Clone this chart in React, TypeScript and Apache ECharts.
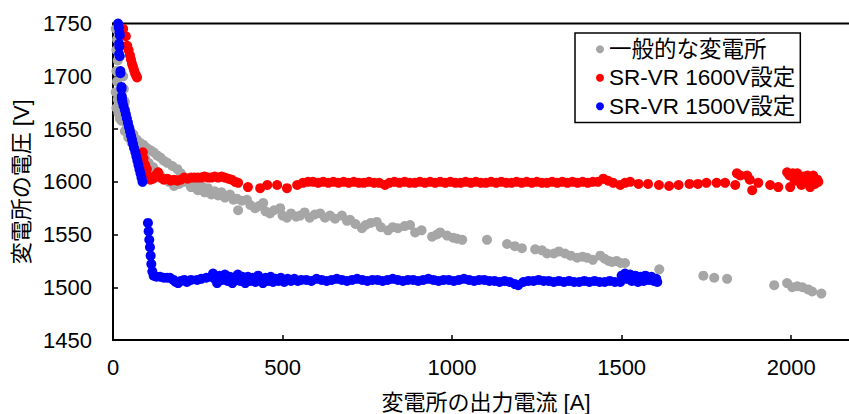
import React, { useEffect, useRef } from "react";
import * as echarts from "echarts";

const seriesNames = ["一般的な変電所", "SR-VR 1600V設定", "SR-VR 1500V設定"];
const seriesColors = ["#A6A6A6", "#FF0000", "#0000FF"];
const xTitle = "変電所の出力電流 [A]";
const yTitle = "変電所の電圧 [V]";

// [current A, voltage V]
const grayPoints: number[][] = [
  [8, 1745], [12, 1735], [10, 1725], [14, 1715], [10, 1705], [12, 1695], [8, 1685], [14, 1678],
  [10, 1670], [16, 1665], [20, 1660], [25, 1658], [30, 1700], [32, 1688], [35, 1676],
  [30, 1660], [40, 1655], [35, 1648], [50, 1650], [45, 1642], [60, 1645], [55, 1637], [70, 1640],
  [65, 1632], [80, 1637], [75, 1628], [90, 1635], [85, 1625], [100, 1632], [95, 1622], [110, 1630],
  [105, 1618], [120, 1628], [118, 1614], [130, 1625], [128, 1610], [140, 1623], [140, 1606],
  [150, 1620], [152, 1603], [160, 1618], [165, 1600], [175, 1615], [180, 1596], [190, 1612],
  [195, 1598], [200, 1608], [210, 1600], [220, 1603], [230, 1595], [240, 1598], [250, 1592],
  [260, 1597], [270, 1590], [280, 1594], [290, 1588], [300, 1591], [310, 1587], [320, 1590],
  [330, 1585], [345, 1588], [355, 1583], [365, 1584], [369, 1573], [380, 1582], [395, 1583],
  [405, 1578], [419, 1575], [430, 1577], [443, 1580], [450, 1572], [463, 1570], [475, 1573],
  [493, 1575], [500, 1568], [513, 1566], [525, 1570], [540, 1567], [552, 1568], [565, 1571],
  [580, 1566], [595, 1569], [611, 1570], [625, 1566], [640, 1568], [655, 1565], [675, 1568],
  [690, 1563], [699, 1564], [715, 1560], [734, 1556], [745, 1559], [760, 1561], [778, 1562],
  [790, 1557], [811, 1554], [825, 1557], [840, 1556], [860, 1558], [876, 1559], [891, 1552],
  [910, 1554], [941, 1548], [955, 1550], [965, 1552], [985, 1549], [1003, 1547], [1015, 1546],
  [1030, 1545], [1103, 1545], [1162, 1541], [1185, 1539], [1206, 1537], [1245, 1536], [1265, 1535],
  [1280, 1532], [1300, 1532], [1315, 1534], [1333, 1532], [1350, 1530], [1369, 1528], [1385, 1529],
  [1398, 1528], [1415, 1526], [1437, 1530], [1450, 1527], [1462, 1525], [1472, 1524], [1485, 1525],
  [1497, 1523], [1510, 1523], [1611, 1517], [1741, 1511], [1773, 1509], [1811, 1508], [1950, 1502],
  [1988, 1504], [2003, 1500], [2018, 1501], [2033, 1500], [2050, 1498], [2062, 1496], [2089, 1494],
];

const redPoints: number[][] = [
  [30, 1745], [38, 1738], [42, 1729], [46, 1725], [50, 1720], [53, 1716], [56, 1712], [59, 1709],
  [62, 1706], [65, 1703], [68, 1701], [71, 1699],
  [88, 1628], [90, 1622], [95, 1616], [100, 1612], [100, 1607], [105, 1604], [110, 1602], [118, 1603],
  [125, 1606], [133, 1609], [140, 1604], [150, 1602], [160, 1603], [170, 1601], [180, 1602],
  [190, 1601], [200, 1602], [210, 1604], [220, 1603], [230, 1604], [240, 1604], [250, 1604],
  [260, 1604], [270, 1605], [280, 1604], [290, 1604], [300, 1605], [310, 1604], [320, 1605],
  [330, 1604], [340, 1603], [350, 1602], [360, 1600], [369, 1599], [398, 1595], [434, 1594],
  [455, 1597], [484, 1597], [513, 1594], [543, 1597],
  [560, 1599], [575, 1600], [590, 1600], [605, 1599], [620, 1600], [635, 1599], [650, 1600],
  [665, 1599], [680, 1600], [695, 1599], [710, 1600], [725, 1599], [740, 1599], [755, 1600],
  [770, 1599], [785, 1599], [802, 1597], [815, 1599], [830, 1600], [845, 1599], [860, 1600],
  [875, 1599], [890, 1599], [905, 1600], [920, 1599], [935, 1600], [950, 1599], [965, 1600],
  [980, 1599], [995, 1600], [1010, 1599], [1025, 1599], [1040, 1600], [1055, 1599], [1070, 1600],
  [1085, 1599], [1100, 1599], [1115, 1600], [1130, 1599], [1145, 1600], [1160, 1599], [1175, 1599],
  [1190, 1600], [1205, 1599], [1220, 1600], [1235, 1599], [1250, 1600], [1265, 1599], [1280, 1599],
  [1295, 1600], [1310, 1599], [1325, 1600], [1340, 1599], [1355, 1600], [1370, 1599], [1385, 1600],
  [1400, 1599], [1415, 1600], [1430, 1600],
  [1446, 1603], [1460, 1601], [1475, 1599], [1496, 1597], [1510, 1599], [1525, 1600], [1550, 1598],
  [1578, 1598], [1610, 1597], [1640, 1596], [1668, 1597], [1700, 1598], [1725, 1598], [1750, 1599],
  [1780, 1599], [1805, 1599], [1835, 1597], [1840, 1608], [1850, 1606], [1870, 1606], [1878, 1602],
  [1885, 1592], [1903, 1599], [1938, 1597], [1962, 1595], [1988, 1609], [1995, 1606], [1997, 1595],
  [2005, 1608], [2010, 1601], [2018, 1608], [2025, 1604], [2030, 1597], [2036, 1605], [2045, 1600],
  [2048, 1606], [2056, 1595], [2060, 1603], [2065, 1606], [2070, 1598], [2077, 1602], [2080, 1600],
];

const bluePoints: number[][] = [
  [15, 1750], [17, 1746], [19, 1741], [20, 1739], [18, 1731], [19, 1728], [18, 1721], [20, 1719],
  [22, 1705], [22, 1703], [25, 1690], [25, 1688], [26, 1681], [26, 1679], [28, 1676], [31, 1672],
  [35, 1668], [38, 1664], [41, 1660], [44, 1656], [47, 1652], [50, 1648], [53, 1644], [56, 1640],
  [59, 1636], [62, 1632], [66, 1628], [69, 1624], [72, 1620], [75, 1616], [78, 1612], [81, 1608],
  [84, 1604], [87, 1600],
  [103, 1561], [105, 1553], [107, 1545], [109, 1538], [111, 1530], [113, 1522], [116, 1515],
  [120, 1511], [128, 1510], [139, 1510], [150, 1509], [160, 1509], [168, 1509], [178, 1507],
  [185, 1505], [192, 1504], [200, 1506], [210, 1507], [218, 1505], [230, 1507], [248, 1507],
  [260, 1508], [275, 1509], [290, 1510], [295, 1513], [300, 1508], [307, 1504], [315, 1511],
  [322, 1507], [330, 1512], [338, 1506], [345, 1510], [352, 1504], [360, 1509], [368, 1512],
  [375, 1506], [382, 1510], [390, 1504],
  [398, 1510], [405, 1506], [412, 1509], [420, 1505], [428, 1511], [435, 1507], [442, 1504],
  [450, 1509], [458, 1506], [465, 1510], [472, 1505], [480, 1508], [488, 1506], [495, 1509],
  [505, 1505], [515, 1508], [525, 1506], [535, 1508], [545, 1506], [555, 1507], [570, 1507],
  [585, 1506], [600, 1508], [615, 1507], [630, 1506], [645, 1507], [660, 1508], [675, 1507],
  [690, 1506], [705, 1507], [720, 1508], [735, 1507], [750, 1506], [765, 1507], [780, 1507],
  [795, 1506], [810, 1507], [825, 1508], [840, 1507], [855, 1506], [870, 1507], [885, 1507],
  [900, 1506], [915, 1507], [930, 1508], [945, 1507], [960, 1506], [975, 1507], [990, 1507],
  [1005, 1506], [1020, 1507], [1035, 1508], [1050, 1507], [1065, 1506], [1080, 1507], [1095, 1507],
  [1110, 1506], [1125, 1506], [1140, 1505], [1155, 1506], [1170, 1505], [1185, 1503], [1195, 1502],
  [1210, 1505], [1225, 1506], [1240, 1506], [1255, 1507], [1270, 1506], [1285, 1506], [1300, 1505],
  [1315, 1506], [1330, 1505], [1345, 1506], [1360, 1505], [1375, 1505], [1390, 1506], [1405, 1505],
  [1420, 1506], [1435, 1505], [1450, 1505], [1465, 1506], [1480, 1505], [1496, 1505], [1500, 1511],
  [1510, 1513], [1515, 1508], [1525, 1512], [1530, 1506], [1540, 1511], [1548, 1505], [1555, 1510],
  [1565, 1506], [1570, 1511], [1580, 1507], [1588, 1510], [1595, 1506], [1602, 1508], [1605, 1505],
];

const FONT = "'Liberation Sans', Arial, 'Noto Sans CJK JP', sans-serif";

export default function App() {
  const ref = useRef<HTMLDivElement>(null);
  useEffect(() => {
    if (!ref.current) return;
    const chart = echarts.init(ref.current, null, { renderer: "svg" });
    const textStyle = { color: "#000", fontFamily: FONT, fontSize: 22 };
    chart.setOption({
      animation: false,
      backgroundColor: "#fff",
      grid: {
        left: 113,
        top: 23.6,
        width: 746,
        height: 316.4,
        show: true,
        borderColor: "#000",
        borderWidth: 2,
        containLabel: false,
        outerBoundsMode: "none",
      },
      legend: {
        orient: "vertical",
        left: 575,
        top: 33,
        data: seriesNames,
        icon: "circle",
        itemWidth: 8,
        itemHeight: 8,
        itemGap: 6,
        padding: [5, 5, 5, 21],
        borderColor: "#000",
        borderWidth: 1.5,
        backgroundColor: "#fff",
        textStyle: { ...textStyle, fontSize: 22.5 },
      },
      xAxis: {
        type: "value",
        min: 0,
        max: 2200,
        interval: 500,
        name: xTitle,
        nameLocation: "middle",
        nameGap: 51,
        nameTextStyle: textStyle,
        axisLine: { show: true, lineStyle: { color: "#000", width: 2 } },
        axisTick: { show: true, inside: true, length: 5, lineStyle: { color: "#000", width: 1.5 } },
        axisLabel: {
          ...textStyle,
          margin: 16,
          showMaxLabel: false,
          formatter: (v: number) => (v % 500 === 0 ? String(v) : ""),
        },
        splitLine: { show: false },
      },
      yAxis: {
        type: "value",
        min: 1450,
        max: 1750,
        interval: 50,
        name: yTitle,
        nameLocation: "middle",
        nameGap: 81,
        nameTextStyle: textStyle,
        axisLine: { show: true, lineStyle: { color: "#000", width: 2 } },
        axisTick: { show: true, inside: true, length: 5, lineStyle: { color: "#000", width: 1.5 } },
        axisLabel: { ...textStyle, margin: 21, formatter: (v: number) => String(v) },
        splitLine: { show: false },
      },
      series: [
        { name: seriesNames[0], type: "scatter", data: grayPoints, symbolSize: 10, itemStyle: { color: seriesColors[0], opacity: 1 } },
        { name: seriesNames[1], type: "scatter", data: redPoints, symbolSize: 10, itemStyle: { color: seriesColors[1], opacity: 1 } },
        { name: seriesNames[2], type: "scatter", data: bluePoints, symbolSize: 10, itemStyle: { color: seriesColors[2], opacity: 1 } },
      ],
    });
    return () => chart.dispose();
  }, []);
  return (
    <div
      ref={ref}
      style={{ position: "fixed", left: 0, top: 0, width: 849, height: 414, background: "#fff" }}
    />
  );
}
